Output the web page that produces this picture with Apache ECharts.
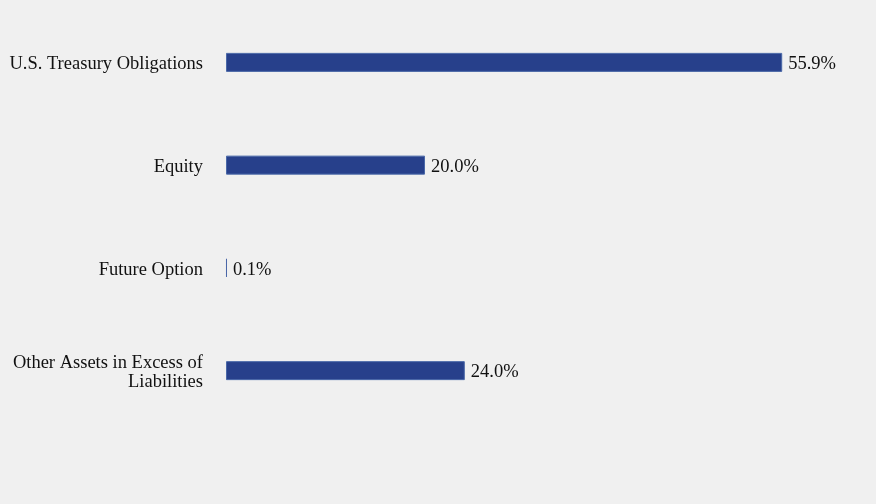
<!DOCTYPE html>
<html><head><meta charset="utf-8">
<script src="https://cdn.jsdelivr.net/npm/echarts@6/dist/echarts.min.js"></script>
<style>html,body{margin:0;padding:0;background:#f0f0f0;}#c{width:876px;height:504px;}</style>
</head><body><div id="c"></div>
<script>
const categories = ["U.S. Treasury Obligations", "Equity", "Future Option", "Other Assets in Excess of\nLiabilities"];
const values = [55.9, 20.0, 0.1, 24.0];
const chart = echarts.init(document.getElementById('c'));
chart.setOption({
  backgroundColor: '#f0f0f0',
  animation: false,
  grid: {left: 226, top: 11, width: 597, height: 411, containLabel: false},
  xAxis: {type: 'value', min: 0, max: 60, show: false},
  yAxis: {
    type: 'category', data: categories, inverse: true,
    axisLine: {show: false}, axisTick: {show: false},
    axisLabel: {
      margin: 23, align: 'right',
      formatter: v => v.split('\n').map(s => '{a|' + s + '}').join('\n'),
      rich: {a: {fontFamily: 'Liberation Serif', fontSize: 18.5, color: '#111', lineHeight: 19, align: 'right', padding: [4, 0, 0, 0]}}
    }
  },
  series: [{
    type: 'bar', data: values, barWidth: 19,
    itemStyle: {color: '#27408b', borderColor: '#4a68a8', borderWidth: 1},
    label: {show: true, position: 'right', distance: 6, offset: [0, 2], formatter: p => p.value.toFixed(1) + '%',
      fontFamily: 'Liberation Serif', fontSize: 18.5, color: '#111'}
  }]
});
</script></body></html>
